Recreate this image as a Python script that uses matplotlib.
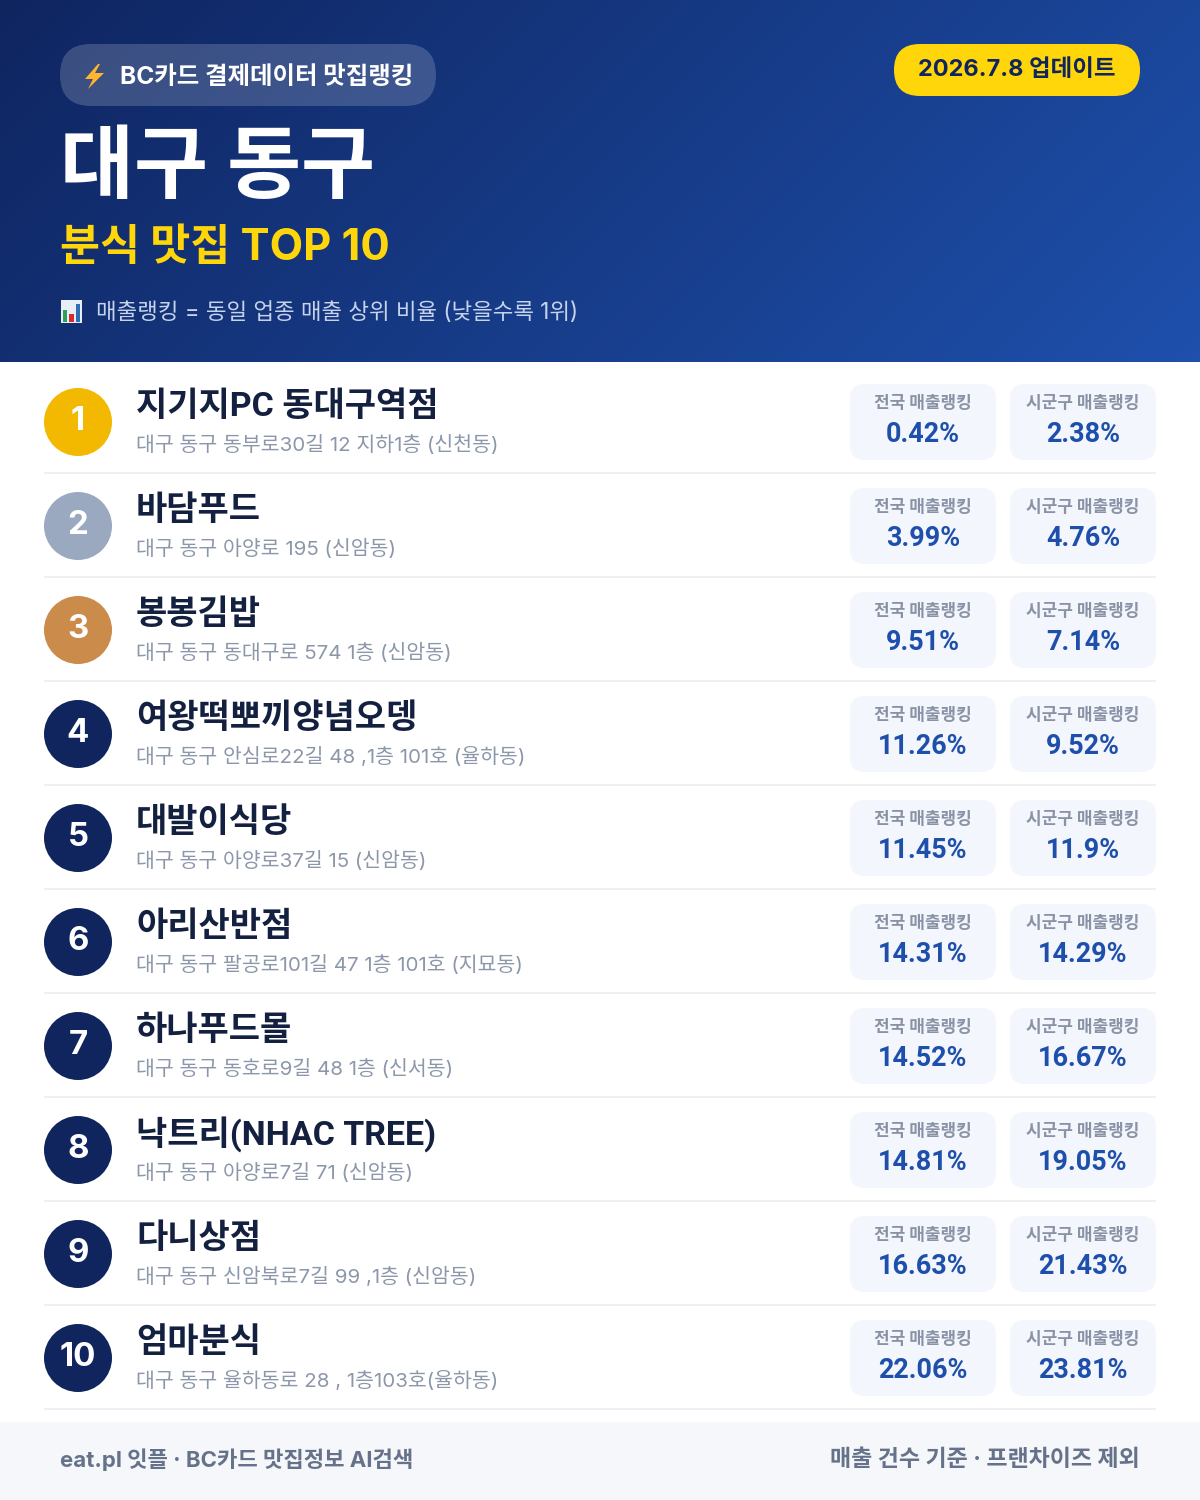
import numpy as np
import matplotlib
matplotlib.use("Agg")
import matplotlib.pyplot as plt
from matplotlib.patches import FancyBboxPatch, Circle, Polygon, Rectangle
from matplotlib.colors import LinearSegmentedColormap

plt.rcParams['font.family'] = ['Inter', 'Noto Sans CJK KR', 'DejaVu Sans']

region = "대구 동구"
subtitle = "분식 맛집 TOP 10"
badge = "BC카드 결제데이터 맛집랭킹"
update = "2026.7.8 업데이트"
note = "매출랭킹 = 동일 업종 매출 상위 비율 (낮을수록 1위)"
footer_left = "eat.pl 잇플 · BC카드 맛집정보 AI검색"
footer_right = "매출 건수 기준 · 프랜차이즈 제외"
label_nat = "전국 매출랭킹"
label_local = "시군구 매출랭킹"

ranks = list(range(1, 11))
names = ["지기지PC 동대구역점", "바담푸드", "봉봉김밥", "여왕떡뽀끼양념오뎅", "대발이식당",
         "아리산반점", "하나푸드몰", "낙트리(NHAC TREE)", "다니상점", "엄마분식"]
addresses = ["대구 동구 동부로30길 12 지하1층 (신천동)", "대구 동구 아양로 195 (신암동)",
             "대구 동구 동대구로 574 1층 (신암동)", "대구 동구 안심로22길 48 ,1층 101호 (율하동)",
             "대구 동구 아양로37길 15 (신암동)", "대구 동구 팔공로101길 47 1층 101호 (지묘동)",
             "대구 동구 동호로9길 48 1층 (신서동)", "대구 동구 아양로7길 71 (신암동)",
             "대구 동구 신암북로7길 99 ,1층 (신암동)", "대구 동구 율하동로 28 , 1층103호(율하동)"]
national = ["0.42%", "3.99%", "9.51%", "11.26%", "11.45%", "14.31%", "14.52%", "14.81%", "16.63%", "22.06%"]
local = ["2.38%", "4.76%", "7.14%", "9.52%", "11.9%", "14.29%", "16.67%", "19.05%", "21.43%", "23.81%"]
circle_colors = ["#F2B900", "#9AA8C0", "#CB8B4A"] + ["#10245E"] * 7

fig = plt.figure(figsize=(12, 15), dpi=100)
ax = fig.add_axes([0, 0, 1, 1])
ax.set_xlim(0, 1200)
ax.set_ylim(1500, 0)
ax.axis("off")
ax.set_aspect("auto")

def px(v):
    return v * 0.72

def round_box(x0, y0, x1, y1, r, **kw):
    p = FancyBboxPatch((x0 + r, y0 + r), x1 - x0 - 2 * r, y1 - y0 - 2 * r,
                       boxstyle=f"round,pad={r},rounding_size={r}", linewidth=0, **kw)
    ax.add_patch(p)
    return p

# header gradient
H = 362
yy, xx = np.mgrid[0:H, 0:1200]
t = (xx * 0.707 + yy * 0.707)
t = t / t.max()
cm = LinearSegmentedColormap.from_list("h", ["#0F2560", "#1E50AC"])
ax.imshow(t, extent=(0, 1200, H, 0), cmap=cm, aspect="auto", zorder=0, interpolation="bilinear")
ax.set_xlim(0, 1200)
ax.set_ylim(1500, 0)

# badge
round_box(60, 44, 436, 106, 31, facecolor="#ffffff", alpha=0.18, zorder=1)
ax.add_patch(Polygon([(98, 64), (85, 79), (93, 79), (88, 89), (104, 73), (95, 73), (100, 64)],
                     closed=True, facecolor="#FFB52E", edgecolor="none", zorder=2))
ax.text(120, 78, badge, color="white", fontsize=px(24.5), fontweight="bold", va="center", ha="left", zorder=3)

# update pill
round_box(894, 44, 1140, 96, 26, facecolor="#FFD60A", zorder=1)
ax.text(1017, 70, update, color="#10245E", fontsize=px(23.5), fontweight="bold", va="center", ha="center", zorder=3)

# titles
ax.text(60, 171, region, color="white", fontsize=px(80.5), fontweight="bold", va="center", ha="left", zorder=3)
ax.text(60, 249, subtitle, color="#FFD60A", fontsize=px(43.5), fontweight="bold", va="center", ha="left", zorder=3)

# note icon
ax.add_patch(Rectangle((61, 300), 21, 23, facecolor="#E8EEF6", edgecolor="none", zorder=2))
ax.add_patch(Rectangle((63, 310), 4, 12, facecolor="#2E9E5B", edgecolor="none", zorder=3))
ax.add_patch(Rectangle((69, 314), 5, 8, facecolor="#D92B2B", edgecolor="none", zorder=3))
ax.add_patch(Rectangle((76, 304), 4, 18, facecolor="#2F6DB5", edgecolor="none", zorder=3))
ax.text(96, 313, note, color="#C6D3EC", fontsize=px(22.4), va="center", ha="left", zorder=3)

# rows
ROW = 104
for i, r in enumerate(ranks):
    cy = 422 + i * ROW
    ax.add_patch(Circle((78, cy), 34, facecolor=circle_colors[i], edgecolor="none", zorder=2))
    ax.text(78, cy, str(r), color="white", fontsize=px(33), fontweight="bold", va="center", ha="center", zorder=3)
    ax.text(136, cy - 15, names[i], color="#14203F", fontsize=px(34), fontweight="bold",
            family=["Roboto", "Noto Sans CJK KR", "DejaVu Sans"], va="center", ha="left", zorder=3)
    ax.text(136, cy + 23, addresses[i], color="#8C97AA", fontsize=px(20.5), va="center", ha="left", zorder=3)
    for x0, x1, lab, val in ((850, 996, label_nat, national[i]), (1010, 1156, label_local, local[i])):
        round_box(x0, cy - 38, x1, cy + 38, 15, facecolor="#F3F6FC", zorder=1)
        xc = (x0 + x1) / 2
        ax.text(xc, cy - 19, lab, color="#8A93A6", fontsize=px(17), fontweight="bold", va="center", ha="center", zorder=3)
        ax.text(xc, cy + 13, val, color="#1E4FAB", fontsize=px(27), fontweight="bold", family="Roboto",
                va="center", ha="center", zorder=3)
    ax.add_patch(Rectangle((44, cy + 50), 1112, 2, facecolor="#EDEFF2", edgecolor="none", zorder=1))

# footer
ax.add_patch(Rectangle((0, 1422), 1200, 78, facecolor="#F5F7FB", edgecolor="none", zorder=1))
ax.text(60, 1460, footer_left, color="#65728A", fontsize=px(22.2), fontweight="bold", va="center", ha="left", zorder=3)
ax.text(1140, 1460, footer_right, color="#65728A", fontsize=px(23), fontweight="bold", va="center", ha="right", zorder=3)

fig.savefig("out.png", dpi=100, facecolor="white")
